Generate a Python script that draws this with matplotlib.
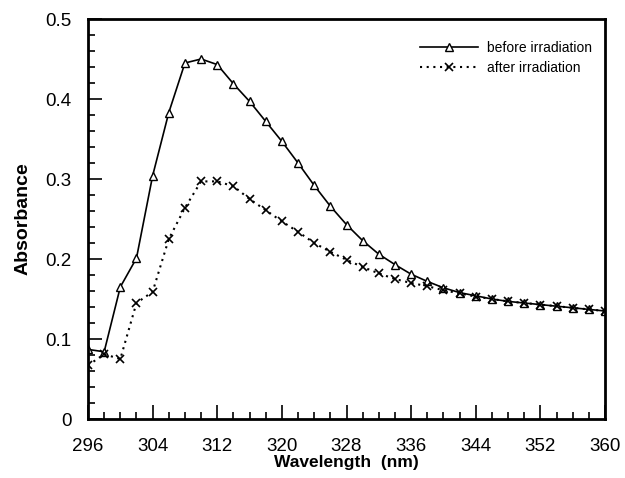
import matplotlib
matplotlib.use("Agg")
import matplotlib.pyplot as plt
from matplotlib.ticker import MultipleLocator, FixedLocator, FixedFormatter

plt.rcParams['font.family'] = ['Liberation Sans', 'DejaVu Sans']

wavelength = list(range(296, 361, 2))
before = [0.087, 0.084, 0.165, 0.201, 0.304, 0.383, 0.445, 0.450, 0.443, 0.419,
          0.397, 0.372, 0.347, 0.320, 0.292, 0.266, 0.243, 0.223, 0.206, 0.193,
          0.181, 0.172, 0.164, 0.158, 0.154, 0.150, 0.147, 0.145, 0.143, 0.141,
          0.139, 0.137, 0.135]
after = [0.067, 0.081, 0.075, 0.145, 0.159, 0.225, 0.264, 0.297, 0.297, 0.291,
         0.275, 0.261, 0.247, 0.234, 0.220, 0.209, 0.199, 0.190, 0.182, 0.175,
         0.170, 0.166, 0.161, 0.157, 0.153, 0.150, 0.147, 0.145, 0.143, 0.141,
         0.139, 0.137, 0.135]
xticks = [296, 304, 312, 320, 328, 336, 344, 352, 360]
yticks = [0, 0.1, 0.2, 0.3, 0.4, 0.5]
ytick_labels = ["0", "0.1", "0.2", "0.3", "0.4", "0.5"]

fig = plt.figure(figsize=(6.25, 4.78), dpi=100)
ax = fig.add_axes([88/625, 59/478, 517/625, 400/478])

ax.plot(wavelength, before, color='black', lw=1.2, marker='^', ms=5.5,
        mfc='white', mec='black', mew=1.0, label='before irradiation')
ax.plot(wavelength, after, color='black', lw=1.5, ls=(0, (1, 2.2)), marker='x',
        ms=5.5, mec='black', mew=1.2, label='after irradiation')

ax.set_xlim(296, 360)
ax.set_ylim(0, 0.5)
ax.xaxis.set_major_locator(FixedLocator(xticks))
ax.xaxis.set_minor_locator(MultipleLocator(2))
ax.yaxis.set_major_locator(FixedLocator(yticks))
ax.yaxis.set_major_formatter(FixedFormatter(ytick_labels))
ax.yaxis.set_minor_locator(MultipleLocator(0.02))

ax.tick_params(which='both', direction='in', top=False, right=False, width=1.2)
ax.tick_params(which='major', length=10, labelsize=13.5)
ax.tick_params(axis='x', which='major', pad=14)
ax.tick_params(axis='y', which='major', pad=12)
ax.tick_params(which='minor', length=5)
for s in ax.spines.values():
    s.set_linewidth(2)

ax.set_xlabel('Wavelength  (nm)', fontsize=12.5, fontweight='bold', labelpad=0)
ax.set_ylabel('Absorbance', fontsize=14, fontweight='bold', labelpad=10)

leg = ax.legend(loc='upper left', bbox_to_anchor=((420-88)/517, (419-41)/400),
                frameon=False, fontsize=10, numpoints=1, handlelength=4.2,
                handletextpad=0.6, labelspacing=0.45, borderpad=0, borderaxespad=0)

fig.savefig('out.png', dpi=100)
